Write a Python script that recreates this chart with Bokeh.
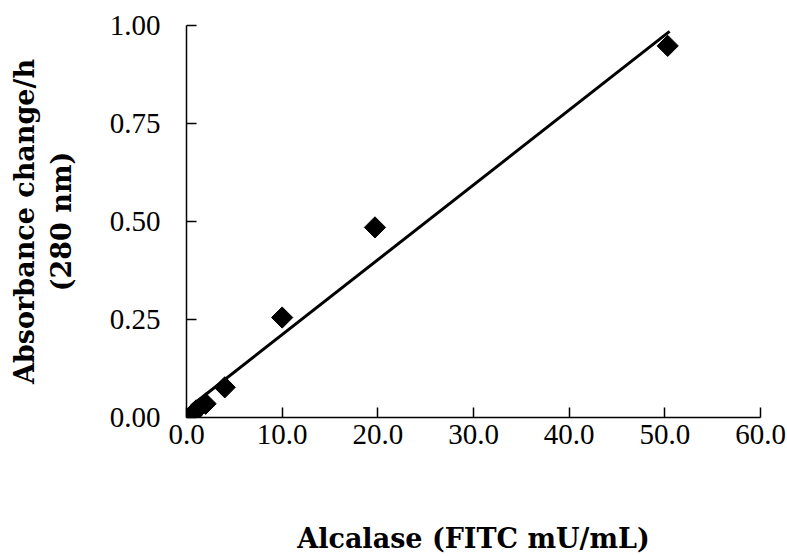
import math
from bokeh.plotting import figure
from bokeh.models import Range1d, FixedTicker
from bokeh.embed import file_html
from bokeh.resources import INLINE

# Data
conc = [0.5, 1.0, 2.0, 4.0, 10.0, 19.7, 50.3]          # Alcalase (FITC mU/mL)
absorb = [0.005, 0.018, 0.035, 0.077, 0.255, 0.485, 0.948]  # Absorbance change/h
fit_x = [0.5, 50.5]
fit_y = [0.03, 0.985]
x_ticks = [0, 10, 20, 30, 40, 50, 60]
y_ticks = [0, 0.25, 0.5, 0.75, 1.0]

FONT = "Liberation Serif"
LABEL_FONT = "DejaVu Serif"

p = figure(width=787, height=556, output_backend="svg", toolbar_location=None,
           x_range=Range1d(0, 60), y_range=Range1d(0, 1.0),
           min_border_left=186, min_border_right=27, min_border_top=25, min_border_bottom=139)
p.outline_line_color = None
p.grid.visible = False
p.background_fill_color = "white"
p.border_fill_color = "white"

p.line(fit_x, fit_y, line_color="black", line_width=3)
p.scatter(conc, absorb, marker="square", angle=math.pi / 4, size=15,
          fill_color="black", line_color="black")

for ax in (p.xaxis[0], p.yaxis[0]):
    ax.axis_line_color = "black"
    ax.axis_line_width = 1.5
    ax.major_tick_in = 10
    ax.major_tick_out = 0
    ax.minor_tick_line_color = None
    ax.major_tick_line_color = "black"
    ax.major_tick_line_width = 1.5
    ax.major_label_text_font = FONT
    ax.major_label_text_font_size = "29px"
    ax.major_label_text_color = "black"
    ax.axis_label_text_font = LABEL_FONT
    ax.axis_label_text_font_style = "bold"
    ax.axis_label_text_font_size = "27px"
    ax.axis_label_text_color = "black"

p.xaxis.ticker = FixedTicker(ticks=x_ticks)
p.yaxis.ticker = FixedTicker(ticks=y_ticks)
p.xaxis.major_label_overrides = {t: f"{t:.1f}" for t in x_ticks}
p.yaxis.major_label_overrides = {t: f"{t:.2f}" for t in y_ticks}
p.xaxis.major_label_standoff = 7
p.yaxis.major_label_standoff = 26

p.xaxis.axis_label = "Alcalase (FITC mU/mL)"
p.xaxis.axis_label_standoff = 76
p.yaxis.axis_label = "Absorbance change/h\n(280 nm)"
p.yaxis.axis_label_standoff = 30

open("out.html", "w").write(file_html(p, INLINE))
